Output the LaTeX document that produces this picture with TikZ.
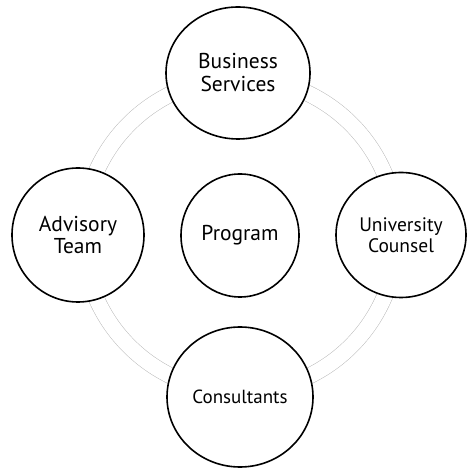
\documentclass[tikz,border=0pt]{standalone}
\usepackage{fontspec}
\setmainfont{PT Sans}
\usetikzlibrary{shapes.geometric,backgrounds}
\begin{document}
\begin{tikzpicture}[x=1pt,y=1pt,
  party/.style={ellipse, draw=black, line width=1.6pt, fill=white,
    inner sep=0pt, align=center},
  bigtext/.style={font=\fontsize{21.5}{23}\selectfont},
  smalltext/.style={font=\fontsize{19.5}{20.5}\selectfont},
  link/.style={draw=gray!55, line width=0.5pt, double=white,
    double distance=15.5pt}]
\useasboundingbox (0,0) rectangle (467,468);

% the central circle and the four partners around it
\node[party, bigtext, minimum width=118, minimum height=123] (prog) at (240,232.5) {Program};
\node[party, bigtext, minimum width=144, minimum height=132] (bus) at (238,395) {Business\\Services};
\node[party, bigtext, font=\fontsize{21.5}{21.5}\selectfont, minimum width=132, minimum height=134] (adv) at (78,233) {Advisory\\Team};
\node[party, smalltext, minimum width=130, minimum height=125] (uni) at (401,233) {University\\Counsel};
\node[party, font=\fontsize{19}{20}\selectfont, minimum width=146, minimum height=140] (con) at (240,71) {Consultants};

% the ring of double lines joining the partners, hidden under the circles
\coordinate (hub) at (240,233);
\begin{scope}[on background layer]
  \draw[link] ([shift={(90:157)}]hub) arc[start angle=90, end angle=180, radius=157];
  \draw[link] ([shift={(180:157)}]hub) arc[start angle=180, end angle=270, radius=157];
  \draw[link] ([shift={(270:157)}]hub) arc[start angle=270, end angle=360, radius=157];
  \draw[link] ([shift={(0:157)}]hub) arc[start angle=0, end angle=90, radius=157];
\end{scope}
\end{tikzpicture}
\end{document}
